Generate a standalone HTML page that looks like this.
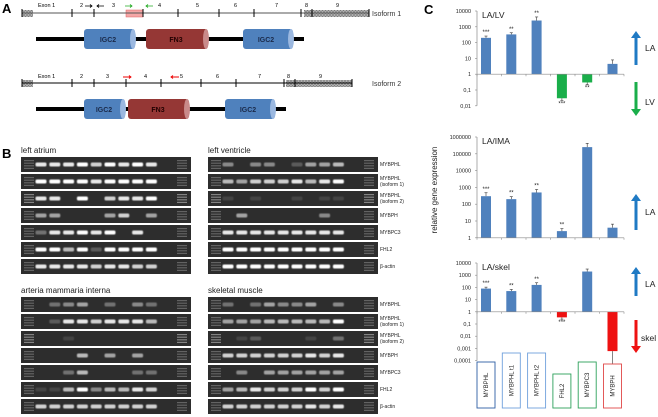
<!DOCTYPE html>
<html><head><meta charset="utf-8">
<style>
body{margin:0;background:#fff;}
svg{display:block;font-family:"Liberation Sans",sans-serif;}
</style></head>
<body>
<svg id="fig" width="658" height="417" viewBox="0 0 658 417" xmlns="http://www.w3.org/2000/svg">
<defs>
<pattern id="hatch" width="3" height="3" patternUnits="userSpaceOnUse"><rect width="3" height="3" fill="#bbb"/><path d="M0 0L3 3M3 0L0 3" stroke="#777" stroke-width="0.6"/></pattern>
<filter id="glow" x="-20%" y="-50%" width="140%" height="200%"><feGaussianBlur stdDeviation="0.5"/></filter>
</defs>
<text x="2" y="13" font-size="13" font-weight="bold">A</text>
<text x="2" y="158" font-size="13" font-weight="bold">B</text>
<text x="424" y="14" font-size="13" font-weight="bold">C</text>

<!-- Panel A isoform 1 -->
<g>
<rect x="126" y="10" width="17" height="7" fill="#f4a6a6" stroke="#e06060" stroke-width="0.5"/>
<rect x="22" y="10" width="11" height="7" fill="url(#hatch)"/>
<rect x="304" y="10" width="65" height="7" fill="url(#hatch)"/>
<line x1="22" y1="13" x2="369" y2="13" stroke="#555" stroke-width="1"/>
<g stroke="#000" stroke-width="1"><line x1="22" y1="9" x2="22" y2="17"/><line x1="72" y1="9" x2="72" y2="17"/><line x1="94" y1="9" x2="94" y2="17"/><line x1="143" y1="9" x2="143" y2="17"/><line x1="178" y1="9" x2="178" y2="17"/><line x1="219" y1="9" x2="219" y2="17"/><line x1="254" y1="9" x2="254" y2="17"/><line x1="301" y1="9" x2="301" y2="17"/><line x1="312" y1="9" x2="312" y2="17"/><line x1="369" y1="9" x2="369" y2="17"/></g>
<g font-size="5.5"><text x="38" y="7">Exon 1</text><text x="80" y="7">2</text><text x="112" y="7">3</text><text x="158" y="7">4</text><text x="196" y="7">5</text><text x="234" y="7">6</text><text x="275" y="7">7</text><text x="305" y="7">8</text><text x="336" y="7">9</text></g>
<path d="M85 6h7M90 4.5l2 1.5-2 1.5" stroke="#000" fill="none" stroke-width="0.8"/>
<path d="M104 6h-7M99 4.5l-2 1.5 2 1.5" stroke="#000" fill="none" stroke-width="0.8"/>
<path d="M125 6h7M130 4.5l2 1.5-2 1.5" stroke="#2a2" fill="none" stroke-width="0.8"/>
<path d="M153 6h-7M148 4.5l-2 1.5 2 1.5" stroke="#2a2" fill="none" stroke-width="0.8"/>
<text x="372" y="16" font-size="7" fill="#333">Isoform 1</text>
</g>
<g>
<line x1="36" y1="39" x2="304" y2="39" stroke="#000" stroke-width="4"/>
<rect x="84" y="29" width="51" height="20" rx="3" fill="#4f81bd"/><ellipse cx="133" cy="39" rx="3" ry="10" fill="#9bb8e0"/>
<rect x="146" y="29" width="62" height="20" rx="3" fill="#953735"/><ellipse cx="206" cy="39" rx="3" ry="10" fill="#c98a8a"/>
<rect x="243" y="29" width="50" height="20" rx="3" fill="#4f81bd"/><ellipse cx="291" cy="39" rx="3" ry="10" fill="#9bb8e0"/>
<g font-size="7" font-weight="bold" fill="#1a2a4a" text-anchor="middle"><text x="108" y="42">IGC2</text><text x="176" y="42" fill="#200">FN3</text><text x="266" y="42">IGC2</text></g>
</g>
<!-- isoform 2 -->
<g>
<rect x="22" y="80" width="11" height="7" fill="url(#hatch)"/>
<rect x="286" y="80" width="66" height="7" fill="url(#hatch)"/>
<line x1="22" y1="83" x2="352" y2="83" stroke="#000" stroke-width="1"/>
<g stroke="#000" stroke-width="1"><line x1="22" y1="79" x2="22" y2="87"/><line x1="72" y1="79" x2="72" y2="87"/><line x1="94" y1="79" x2="94" y2="87"/><line x1="126" y1="79" x2="126" y2="87"/><line x1="161" y1="79" x2="161" y2="87"/><line x1="201" y1="79" x2="201" y2="87"/><line x1="236" y1="79" x2="236" y2="87"/><line x1="284" y1="79" x2="284" y2="87"/><line x1="295" y1="79" x2="295" y2="87"/><line x1="352" y1="79" x2="352" y2="87"/></g>
<g font-size="5.5"><text x="38" y="78">Exon 1</text><text x="80" y="78">2</text><text x="106" y="78">3</text><text x="144" y="78">4</text><text x="180" y="78">5</text><text x="216" y="78">6</text><text x="258" y="78">7</text><text x="287" y="78">8</text><text x="319" y="78">9</text></g>
<path d="M123 77h8M129 75.5l2 1.5-2 1.5" stroke="#e00" fill="none" stroke-width="0.9"/>
<path d="M179 77h-8M173 75.5l-2 1.5 2 1.5" stroke="#e00" fill="none" stroke-width="0.9"/>
<text x="372" y="86" font-size="7" fill="#333">Isoform 2</text>
</g>
<g>
<line x1="36" y1="109" x2="286" y2="109" stroke="#000" stroke-width="4"/>
<rect x="84" y="99" width="41" height="20" rx="3" fill="#4f81bd"/><ellipse cx="123" cy="109" rx="3" ry="10" fill="#9bb8e0"/>
<rect x="128" y="99" width="61" height="20" rx="3" fill="#953735"/><ellipse cx="187" cy="109" rx="3" ry="10" fill="#c98a8a"/>
<rect x="225" y="99" width="50" height="20" rx="3" fill="#4f81bd"/><ellipse cx="273" cy="109" rx="3" ry="10" fill="#9bb8e0"/>
<g font-size="7" font-weight="bold" fill="#1a2a4a" text-anchor="middle"><text x="104" y="112">IGC2</text><text x="158" y="112" fill="#200">FN3</text><text x="248" y="112">IGC2</text></g>
</g>

<g id="gels"></g>
<g id="charts"></g>
</svg>
<script>
const NS="http://www.w3.org/2000/svg";
function mk(p,tag,a,txt){const e=document.createElementNS(NS,tag);for(const k in a)e.setAttribute(k,a[k]);if(txt!==undefined)e.textContent=txt;p.appendChild(e);return e;}
// ---- Gels ----
const gelTitles=["left atrium","left ventricle","arteria mammaria interna","skeletal muscle"];
const laBands=["888979898","999989999","880907889","550005705","388989080","996929999","888878877"];
const lvBands=["404402556","657778689","101001011","050000040","888888888","999999999","999999999"];
const imaBands=["034503043","028878886","001000000","000605050","003600033","116946687","777777777"];
const skBands=["303544504","555666669","012000103","777777878","040555555","568777979","777777878"];
const rowLabels=[["MYBPHL"],["MYBPHL","(isoform 1)"],["MYBPHL","(isoform 2)"],["MYBPH"],["MYBPC3"],["FHL2"],["β-actin"]];
const gelData=[laBands,lvBands,imaBands,skBands];
const gelPos=[[21,157],[208,157],[21,297],[208,297]];
const G=document.getElementById('gels');
gelData.forEach((bands,gi)=>{
  const [gx,gy]=gelPos[gi];
  const g=mk(G,'g',{});
  
  
  const t=mk(g,'text',{x:gx,y:gy-4,'font-size':8,fill:'#222'},gelTitles[gi]);
  
  
  bands.forEach((row,ri)=>{
    const y=gy+ri*17;
    mk(g,'rect',{x:gx,y:y,width:170,height:15,fill:'#2d2d2d'});
    [8,161].forEach(lx=>{for(let k=0;k<4;k++)mk(g,'rect',{x:gx+lx-5,y:y+3+k*2.6,width:10,height:1.2,fill:'#999',opacity:ri==2?0.8:0.5});});
    for(let i=0;i<9;i++){
      const v=+row[i]; if(!v)continue;
      const b=mk(g,'rect',{x:gx+20+i*13.8-5.5,y:y+5.5,width:11,height:4,rx:1.5,fill:'#fff',filter:'url(#glow)',opacity:(v/9).toFixed(2)});
      
      
    }
  });
  if(gi%2==1){
    rowLabels.forEach((lab,ri)=>{
      const y=gy+ri*17;
      lab.forEach((l,li)=>{const tt=mk(g,'text',{x:380,y:y+(lab.length>1?6+li*6:9),'font-size':5,fill:'#222'},l);
        
        });
    });
  }
});
// ---- Charts ----
const categories=["MYBPHL","MYBPHL t1","MYBPHL t2","FHL2","MYBPC3","MYBPH"];
const lvValues=[200,330,2500,0.03,0.3,4.5];
const lvErr=[260,420,4200,0.022,0.22,8];
const lvStars=["***","**","**","***","**",""];
const imaValues=[300,200,500,2.5,250000,4];
const imaErr=[480,280,750,3.5,420000,6.5];
const imaStars=["***","**","**","**","",""];
const skValues=[80,50,160,0.35,2000,0.0006];
const skErr=[105,68,240,0.25,3200,0.00005];
const skStars=["***","**","**","***","",""];
const lvTicks=["10000","1000","100","10","1","0,1","0,01"];
const imaTicks=["1000000","100000","10000","1000","100","10","1"];
const skTicks=["10000","1000","100","10","1","0,1","0,01","0,001","0,0001"];
const C=document.getElementById('charts');
const xAxisL=477, xAxisR=624;
function xPos(i){return 486+i*25.3;}
function drawChart(name,title,vals,errs,stars,ticks,topExp,yTop,dec,negColor){
  const g=mk(C,'g',{});
  
  
  const y=v=>yTop+(topExp-Math.log10(v))*dec;
  const y1=y(1);
  ticks.forEach((t,k)=>{const ty=yTop+k*dec;
    const tl=mk(g,'text',{x:471,y:ty+2,'font-size':5.5,'text-anchor':'end',fill:'#222'},t);
    
    
    mk(g,'line',{x1:475,x2:477,y1:ty,y2:ty,stroke:'#888','stroke-width':0.6});});
  mk(g,'line',{x1:xAxisL,x2:xAxisL,y1:yTop,y2:yTop+(ticks.length-1)*dec,stroke:'#888','stroke-width':0.7});
  vals.forEach((v,i)=>{
    const cx=xPos(i),yv=y(v),pos=v>=1;
    const b=mk(g,'rect',{x:cx-5,y:Math.min(yv,y1),width:10,height:Math.abs(yv-y1),fill:pos?'#4f81bd':negColor});
    
    
    const ye=y(errs[i]);
    mk(g,'line',{x1:cx,x2:cx,y1:yv,y2:ye,stroke:'#333','stroke-width':0.6});
    mk(g,'line',{x1:cx-1.5,x2:cx+1.5,y1:ye,y2:ye,stroke:'#333','stroke-width':0.6});
    if(stars[i]){const sy=pos?Math.min(yv,ye)-2:Math.max(yv,ye)+5;
      const s=mk(g,'text',{x:cx,y:sy,'font-size':6,'text-anchor':'middle',fill:'#222'},stars[i]);
      
      }
  });
  mk(g,'line',{x1:xAxisL,x2:xAxisR,y1:y1,y2:y1,stroke:'#888','stroke-width':0.7});
  for(let i=0;i<=6;i++){const tx=xAxisL+i*(xAxisR-xAxisL)/6;mk(g,'line',{x1:tx,x2:tx,y1:y1,y2:y1+2,stroke:'#888','stroke-width':0.6});}
  const tt=mk(g,'text',{x:482,y:yTop+7,'font-size':8.5,fill:'#222'},title);
  
  
}
drawChart('chart-la-lv','LA/LV',lvValues,lvErr,lvStars,lvTicks,4,11,15.8,'#1aae4a');
drawChart('chart-la-ima','LA/IMA',imaValues,imaErr,imaStars,imaTicks,6,137,16.8,'#1aae4a');
drawChart('chart-la-skel','LA/skel',skValues,skErr,skStars,skTicks,4,263,12.2,'#ee1111');
const yt=mk(C,'text',{x:0,y:0,'font-size':8,fill:'#222','text-anchor':'middle',transform:'translate(437,190) rotate(-90)'},'relative gene expression');


function arrow(x,y0,y1c,col,nm){const g=mk(C,'g',{});
  
  
  const up=y1c<y0;const hy=up?y1c+7:y1c-7;
  mk(g,'line',{x1:x,x2:x,y1:y0,y2:hy,stroke:col,'stroke-width':3});
  mk(g,'path',{d:`M${x-5} ${hy}L${x+5} ${hy}L${x} ${y1c}Z`,fill:col});}
arrow(636,65,31,'#1f7ac4','arrow-la-lv-up');arrow(636,82,116,'#1aae4a','arrow-lv-down');
arrow(636,230,194,'#1f7ac4','arrow-la-ima-up');
arrow(636,296,267,'#1f7ac4','arrow-la-skel-up');arrow(636,320,353,'#ee1111','arrow-skel-down');
[["LA",645,51],["LV",645,105],["LA",645,215],["LA",645,287],["skel",641,341]].forEach(l=>{
  const t=mk(C,'text',{x:l[1],y:l[2],'font-size':8.5,fill:'#222'},l[0]);
  
  });
// gene boxes
const boxCols=["#2e5fa3","#6fa0dc","#6fa0dc","#2ca05a","#2ca05a","#e04848"];
const boxTop=[362,353,353,374,362,364];
categories.forEach((c,i)=>{const cx=xPos(i);
  const g=mk(C,'g',{});
  
  
  mk(g,'rect',{x:cx-9,y:boxTop[i],width:18,height:408-boxTop[i],fill:'#fff',stroke:boxCols[i],'stroke-width':0.9});
  const my=(boxTop[i]+408)/2;
  mk(g,'text',{x:0,y:0,'font-size':6,'text-anchor':'middle',fill:'#222',transform:`translate(${cx+2},${my}) rotate(-90)`},c);
});
</script>
</body></html>
